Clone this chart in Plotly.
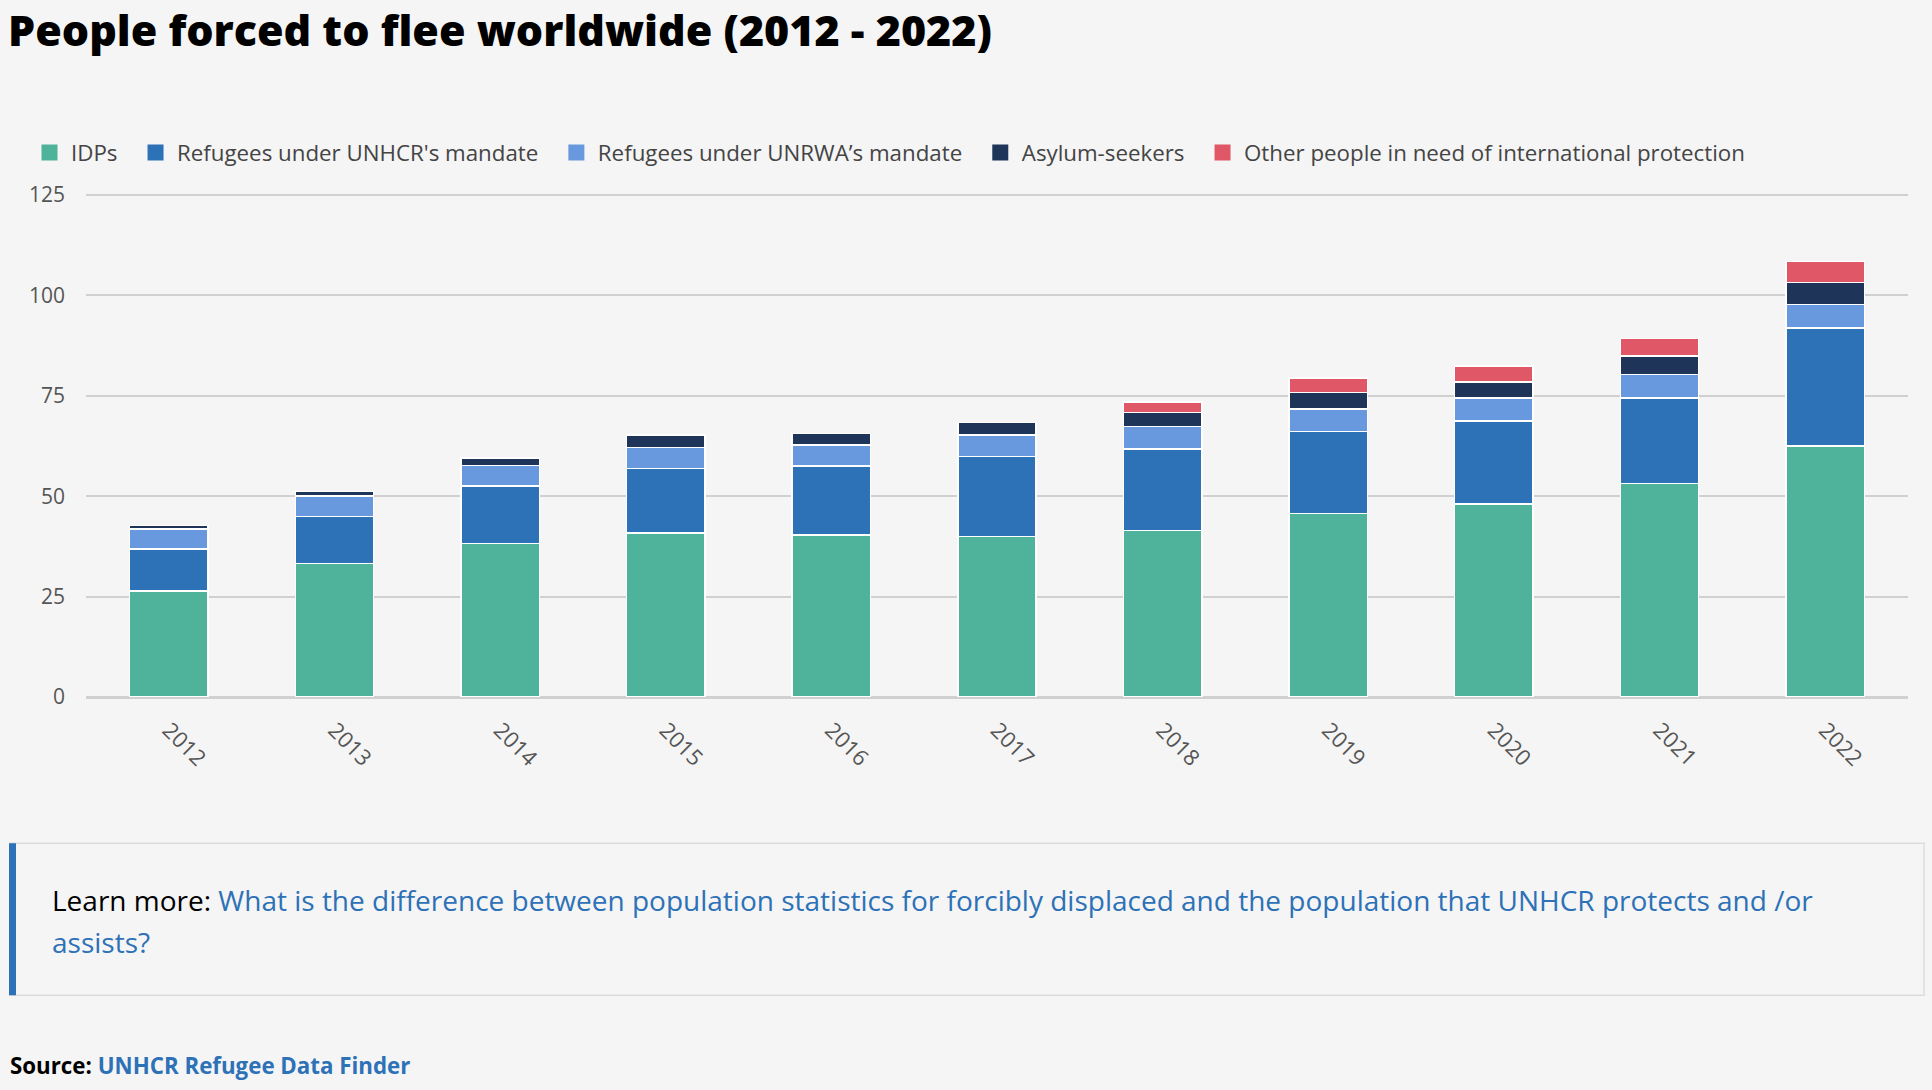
import plotly.graph_objects as go

# ---- data (millions of people) ---------------------------------------------
years = ["2012", "2013", "2014", "2015", "2016", "2017", "2018", "2019", "2020", "2021", "2022"]
idps = [26.4, 33.3, 38.2, 40.8, 40.3, 40.0, 41.4, 45.7, 48.0, 53.2, 62.5]
refugees_unhcr = [10.5, 11.7, 14.4, 16.1, 17.2, 19.9, 20.4, 20.4, 20.7, 21.3, 29.4]
refugees_unrwa = [4.9, 5.0, 5.1, 5.2, 5.3, 5.4, 5.5, 5.6, 5.7, 5.8, 5.9]
asylum_seekers = [0.9, 1.2, 1.8, 3.2, 2.8, 3.1, 3.5, 4.1, 4.1, 4.6, 5.4]
other_protection = [0, 0, 0, 0, 0, 0, 2.6, 3.6, 3.9, 4.4, 5.2]
y_ticks = [0, 25, 50, 75, 100, 125]

series = [
    ("IDPs", idps, "#4fb29a"),
    ("Refugees under UNHCR's mandate", refugees_unhcr, "#2d71b7"),
    ("Refugees under UNRWA’s mandate", refugees_unrwa, "#6899de"),
    ("Asylum-seekers", asylum_seekers, "#1e3459"),
    ("Other people in need of international protection", other_protection, "#e05767"),
]

# ---- page geometry (pixels) ------------------------------------------------
W, H = 1932, 1090
Y_MAX = 126
PLOT_L, PLOT_R = 86, 1908
PLOT_B = 697
PLOT_T = PLOT_B - Y_MAX * 4.012
FONT = "'Open Sans', Lato, sans-serif"
BLUE = "#2d71b7"
LEGEND_PAD = "\u00a0\u00a0"  # extra room between legend entries


def px_x(x):
    return (x - PLOT_L) / (PLOT_R - PLOT_L)


def px_y(y):
    return (PLOT_B - y) / (PLOT_B - PLOT_T)


fig = go.Figure()
for name, values, color in series:
    fig.add_trace(
        go.Bar(
            x=years,
            y=values,
            name=name,
            legendgroup=name,
            showlegend=False,
            marker=dict(color=color, line=dict(color="white", width=1.5)),
        )
    )
# legend-only entries so the swatches can be drawn larger than the bar default
for name, _, color in series:
    fig.add_trace(
        go.Scatter(
            x=[None],
            y=[None],
            mode="markers",
            name=name + LEGEND_PAD,
            legendgroup=name,
            marker=dict(symbol="square", size=16, color=color),
        )
    )

fig.update_layout(
    barmode="stack",
    bargap=0.527,
    width=W,
    height=H,
    margin=dict(l=PLOT_L, r=W - PLOT_R, t=PLOT_T, b=H - PLOT_B),
    paper_bgcolor="#f5f5f5",
    plot_bgcolor="#f5f5f5",
    font=dict(family=FONT, color="#4a4a4a"),
    title=dict(
        text="People forced to flee worldwide (2012 - 2022)",
        font=dict(family=FONT, size=43, color="black", weight=800),
        xref="container",
        yref="container",
        x=8 / W,
        y=1 - 31 / H,
        xanchor="left",
        yanchor="middle",
    ),
    legend=dict(
        orientation="h",
        x=px_x(28),
        y=px_y(153),
        xanchor="left",
        yanchor="middle",
        font=dict(size=22.3, color="#444444"),
        bgcolor="rgba(0,0,0,0)",
        traceorder="normal",
        itemsizing="trace",
        itemwidth=33,
    ),
    xaxis=dict(
        tickangle=45,
        tickfont=dict(size=22, color="#555555"),
        showgrid=False,
        showline=False,
        ticks="",
        ticklabelstandoff=15,
    ),
    yaxis=dict(
        range=[0, Y_MAX],
        tickvals=y_ticks,
        tickfont=dict(size=21, color="#555555"),
        showgrid=True,
        gridcolor="#d0d0d0",
        gridwidth=1.6,
        zeroline=True,
        zerolinecolor="#d0d0d0",
        zerolinewidth=2.5,
        ticks="",
        ticklabelstandoff=20,
    ),
)

# ---- "Learn more" box ------------------------------------------------------
fig.add_shape(
    type="rect", xref="paper", yref="paper",
    x0=px_x(10), x1=px_x(1924), y0=px_y(995), y1=px_y(843),
    line=dict(color="#dcdcdc", width=1.5), fillcolor="#f5f5f5", layer="below",
)
fig.add_shape(
    type="rect", xref="paper", yref="paper",
    x0=px_x(9), x1=px_x(16), y0=px_y(995), y1=px_y(843),
    line=dict(width=0), fillcolor=BLUE,
)
fig.add_annotation(
    text=(
        "Learn more: <span style='color:%s'>What is the difference between population "
        "statistics for forcibly displaced and the population that UNHCR protects and /or</span>"
        % BLUE
    ),
    xref="paper", yref="paper", x=px_x(50), y=px_y(900),
    xanchor="left", yanchor="middle", showarrow=False,
    font=dict(size=28, color="black"),
)
fig.add_annotation(
    text="assists?",
    xref="paper", yref="paper", x=px_x(50), y=px_y(942),
    xanchor="left", yanchor="middle", showarrow=False,
    font=dict(size=28, color=BLUE),
)

# ---- source line -----------------------------------------------------------
fig.add_annotation(
    text="<b>Source:</b> <b><span style='color:%s'>UNHCR Refugee Data Finder</span></b>" % BLUE,
    xref="paper", yref="paper", x=px_x(8), y=px_y(1065),
    xanchor="left", yanchor="middle", showarrow=False,
    font=dict(size=22.3, color="black"),
)

# the page body has a default 8px margin; drop it so the figure fills the window
fig.write_html(
    "out.html",
    config={"displayModeBar": False},
    post_script="document.body.style.margin = '0';",
)
